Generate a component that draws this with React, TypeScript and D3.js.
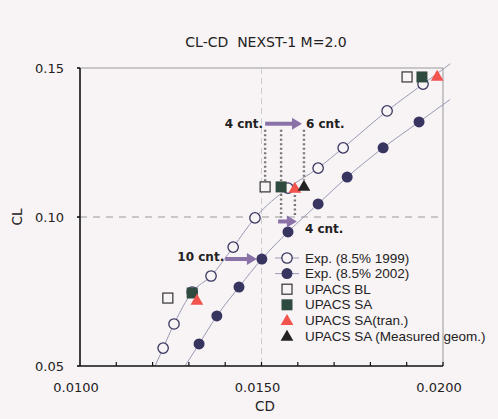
import React from 'react';
import * as d3 from 'd3';

// CD / CL values
const exp1999CD = [0.01229, 0.01259, 0.01309, 0.01361, 0.01422, 0.01482, 0.01573, 0.01656, 0.01725, 0.01846, 0.01945];
const exp1999CL = [0.0560, 0.0641, 0.0748, 0.0802, 0.0899, 0.0997, 0.1097, 0.1164, 0.1232, 0.1356, 0.1446];
const exp2002CD = [0.01328, 0.01377, 0.01438, 0.01501, 0.01573, 0.01656, 0.01736, 0.01835, 0.01934];
const exp2002CL = [0.0574, 0.0668, 0.0765, 0.0859, 0.0950, 0.1044, 0.1134, 0.1232, 0.1319];
const blCD = [0.01242, 0.01510, 0.01901];
const blCL = [0.0728, 0.1101, 0.1470];
const saCD = [0.01309, 0.01554, 0.01942];
const saCL = [0.0745, 0.1101, 0.1470];
const tranCD = [0.01322, 0.01592, 0.01984];
const tranCL = [0.0721, 0.1097, 0.1473];
const geomCD = [0.01617];
const geomCL = [0.1104];

const xTicks = [0.01, 0.015, 0.02];
const yTicks = [0.05, 0.1, 0.15];
const legendLabels = [
  'Exp. (8.5% 1999)',
  'Exp. (8.5% 2002)',
  'UPACS BL',
  'UPACS SA',
  'UPACS SA(tran.)',
  'UPACS SA (Measured geom.)',
];

const W = 498;
const H = 419;
const plot = {left: 80, right: 443, top: 68, bottom: 366};
const FONT = '"Liberation Sans", Arial, sans-serif';
const WIDE = '"DejaVu Sans", sans-serif';
const ARROW = '#8a72a8';
const LINE = '#9a9ab4';
const NAVY = '#37345f';
const BG = '#f8f3f5';

const x = d3.scaleLinear().domain([0.01, 0.02]).range([plot.left, plot.right]);
const y = d3.scaleLinear().domain([0.05, 0.15]).range([plot.bottom, plot.top]);

const zip = (a: number[], b: number[]) => a.map((v, i) => [v, b[i]] as [number, number]);

// extend a series linearly at both ends (down to CL min, up to a bit past CD max)
function extended(pts: [number, number][]) {
  const [p0, p1] = pts;
  const s0 = (p1[1] - p0[1]) / (p1[0] - p0[0]);
  const start: [number, number] = [p0[0] - (p0[1] - 0.05) / s0, 0.05];
  const q1 = pts[pts.length - 2];
  const q0 = pts[pts.length - 1];
  const s1 = (q0[1] - q1[1]) / (q0[0] - q1[0]);
  const xe = 0.0202;
  const end: [number, number] = [xe, q0[1] + s1 * (xe - q0[0])];
  return [start, ...pts, end];
}

const line = d3
  .line<[number, number]>()
  .x(d => x(d[0]))
  .y(d => y(d[1]))
  .curve(d3.curveMonotoneX);

const tri = d3.symbol().type(d3.symbolTriangle).size(70);

function Marker({kind, cx, cy}: {kind: number; cx: number; cy: number}) {
  if (kind === 0) return <circle cx={cx} cy={cy} r={5.2} fill={BG} stroke={NAVY} strokeWidth={1.3} />;
  if (kind === 1) return <circle cx={cx} cy={cy} r={5.5} fill={NAVY} />;
  if (kind === 2) return <rect x={cx - 5} y={cy - 5} width={10} height={10} fill={BG} stroke="#333" strokeWidth={1.2} />;
  if (kind === 3) return <rect x={cx - 5.5} y={cy - 5.5} width={11} height={11} fill="#2f4b40" />;
  if (kind === 4) return <path d={tri() as string} transform={`translate(${cx},${cy + 1})`} fill="#f2534c" />;
  return <path d={tri() as string} transform={`translate(${cx},${cy + 1})`} fill="#222" />;
}

function Arrow({x1, x2, yy}: {x1: number; x2: number; yy: number}) {
  const dir = x2 > x1 ? 1 : -1;
  return (
    <g>
      <line x1={x1} x2={x2 - dir * 8} y1={yy} y2={yy} stroke={ARROW} strokeWidth={4} />
      <path d={`M${x2},${yy} L${x2 - dir * 10},${yy - 6} L${x2 - dir * 10},${yy + 6} Z`} fill={ARROW} />
    </g>
  );
}

export default function App() {
  const e99 = zip(exp1999CD, exp1999CL);
  const e02 = zip(exp2002CD, exp2002CL);
  const minor = d3.range(0.011, 0.0200001, 0.001);
  const dotted = {stroke: '#777', strokeWidth: 2.4, strokeDasharray: '2,2.5'};
  const note = {fontSize: 12, fontWeight: 'bold', fill: '#222', fontFamily: WIDE};

  // annotation anchors taken from the mid-CL UPACS points
  const yTop = y(0.1313);
  const yLow = y(0.0985);

  const lx = 287;
  const ly0 = 258;
  const ldy = 15.6;

  return (
    <svg
      width={W}
      height={H}
      style={{position: 'absolute', left: 0, top: 0, background: BG}}
      fontFamily={FONT}
    >
      <rect width={W} height={H} fill={BG} />
      <text x={266} y={47} textAnchor="middle" fontSize={14} fill="#222" fontFamily={WIDE} style={{whiteSpace: 'pre'}}>
        {'CL-CD  NEXST-1 M=2.0'}
      </text>

      {/* frame and grid */}
      <line x1={plot.left} x2={plot.right} y1={plot.top} y2={plot.top} stroke="#999" strokeWidth={1} />
      <line x1={plot.right} x2={plot.right} y1={plot.top} y2={plot.bottom} stroke="#999" strokeWidth={1} />
      <line x1={plot.left} x2={plot.right} y1={y(0.1)} y2={y(0.1)} stroke="#999" strokeDasharray="7,6" />
      <line x1={x(0.015)} x2={x(0.015)} y1={plot.top} y2={plot.bottom} stroke="#ccc" strokeDasharray="6,4" />

      {/* series lines */}
      <path d={line(extended(e99)) as string} fill="none" stroke={LINE} strokeWidth={1} />
      <path d={line(extended(e02)) as string} fill="none" stroke={LINE} strokeWidth={1} />

      {/* dotted guides */}
      <line x1={x(blCD[1])} x2={x(blCD[1])} y1={yTop + 6} y2={y(blCL[1]) - 6} {...dotted} />
      <line x1={x(saCD[1])} x2={x(saCD[1])} y1={yTop + 6} y2={y(saCL[1]) - 6} {...dotted} />
      <line x1={x(geomCD[0])} x2={x(geomCD[0])} y1={yTop + 6} y2={y(geomCL[0]) - 6} {...dotted} />
      <line x1={x(saCD[1])} x2={x(saCD[1])} y1={y(saCL[1]) + 7} y2={yLow - 4} {...dotted} />
      <line x1={x(tranCD[1])} x2={x(tranCD[1])} y1={y(tranCL[1]) + 7} y2={yLow - 4} {...dotted} />

      {e99.map((d, i) => <Marker key={'a' + i} kind={0} cx={x(d[0])} cy={y(d[1])} />)}
      {e02.map((d, i) => <Marker key={'b' + i} kind={1} cx={x(d[0])} cy={y(d[1])} />)}
      {zip(blCD, blCL).map((d, i) => <Marker key={'c' + i} kind={2} cx={x(d[0])} cy={y(d[1])} />)}
      {zip(saCD, saCL).map((d, i) => <Marker key={'d' + i} kind={3} cx={x(d[0])} cy={y(d[1])} />)}
      {zip(tranCD, tranCL).map((d, i) => <Marker key={'e' + i} kind={4} cx={x(d[0])} cy={y(d[1])} />)}
      {zip(geomCD, geomCL).map((d, i) => <Marker key={'f' + i} kind={5} cx={x(d[0])} cy={y(d[1])} />)}

      {/* annotations */}
      <Arrow x1={x(blCD[1])} x2={x(geomCD[0]) - 2} yy={yTop} />
      <text x={x(blCD[1]) - 2} y={yTop + 4} textAnchor="end" {...note}>4 cnt.</text>
      <text x={x(geomCD[0]) + 2} y={yTop + 4} {...note}>6 cnt.</text>
      <Arrow x1={x(saCD[1]) - 3} x2={x(tranCD[1]) + 2} yy={yLow} />
      <text x={x(tranCD[1]) + 10} y={yLow + 12} {...note}>4 cnt.</text>
      <Arrow x1={x(0.01400)} x2={x(exp2002CD[3]) - 5} yy={y(exp2002CL[3])} />
      <text x={x(0.01400) - 1} y={y(exp2002CL[3]) + 2} textAnchor="end" {...note}>10 cnt.</text>

      {/* axes */}
      <line x1={plot.left} x2={plot.right} y1={plot.bottom} y2={plot.bottom} stroke="#111" strokeWidth={1.6} />
      <line x1={plot.left} x2={plot.left} y1={plot.top} y2={plot.bottom} stroke="#111" strokeWidth={1.6} />
      {minor.map(t => (
        <line key={t} x1={x(t)} x2={x(t)} y1={plot.bottom} y2={plot.bottom - 4} stroke="#111" strokeWidth={1.2} />
      ))}
      {yTicks.map(t => (
        <line key={t} x1={plot.left - 3} x2={plot.left} y1={y(t)} y2={y(t)} stroke="#111" strokeWidth={1.6} />
      ))}
      {xTicks.map(t => (
        <text key={t} x={x(t) - 4} y={392} textAnchor="middle" fontSize={13} fill="#222" fontFamily={WIDE}>
          {d3.format('.4f')(t)}
        </text>
      ))}
      {yTicks.map(t => (
        <text key={t} x={plot.left - 16} y={y(t) + 4.5} textAnchor="end" fontSize={13} fill="#222" fontFamily={WIDE}>
          {d3.format('.2f')(t)}
        </text>
      ))}
      <text x={265} y={411} textAnchor="middle" fontSize={13.5} fill="#222" fontFamily={WIDE}>CD</text>
      <text transform={`translate(22,${y(0.1)}) rotate(-90)`} textAnchor="middle" fontSize={13.5} fill="#222" fontFamily={WIDE}>CL</text>

      {/* legend */}
      {legendLabels.map((lab, i) => (
        <g key={lab} transform={`translate(0,${ly0 + i * ldy})`}>
          {i < 2 && <line x1={lx - 12} x2={lx + 12} y1={0} y2={0} stroke={LINE} strokeWidth={1} />}
          <Marker kind={i} cx={lx} cy={0} />
          <text x={lx + 18} y={4.5} fontSize={13.5} fill="#222">{lab}</text>
        </g>
      ))}
    </svg>
  );
}
